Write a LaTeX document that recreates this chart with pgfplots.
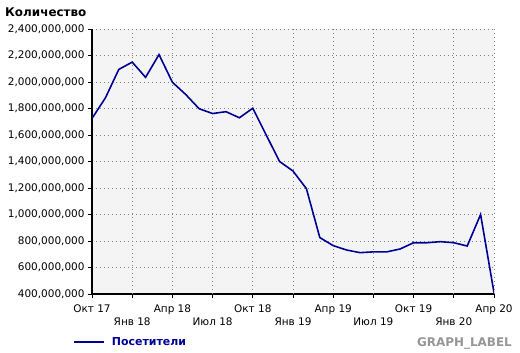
\documentclass[border=0pt]{standalone}
\usepackage{pgfplots}
\pgfplotsset{compat=1.18}
\usepackage{fontspec}
\setmainfont{DejaVu Sans}
\definecolor{bgc}{RGB}{244,244,244}
\definecolor{linec}{RGB}{0,0,150}
\definecolor{gridc}{RGB}{128,128,128}
\definecolor{lblc}{RGB}{150,150,150}
\begin{document}
\begin{tikzpicture}
\useasboundingbox (0,0) rectangle (520bp,353bp);
\begin{axis}[
  at={(92bp,59bp)}, anchor=south west,
  scale only axis, width=402bp, height=265bp,
  xmin=0, xmax=30, ymin=400000000, ymax=2400000000,
  axis x line*=bottom, axis y line*=left,
  axis line style={line width=1.8bp, black, -},
  axis background/.style={fill=bgc},
  xtick={0,6,12,18,24,30},
  xticklabels={Окт 17,Апр 18,Окт 18,Апр 19,Окт 19,Апр 20},
  extra x ticks={3,9,15,21,27},
  extra x tick labels={Янв 18,Июл 18,Янв 19,Июл 19,Янв 20},
  extra x tick style={grid=major, xticklabel style={yshift=-13bp}},
  ytick={400000000,600000000,800000000,1000000000,1200000000,1400000000,1600000000,1800000000,2000000000,2200000000,2400000000},
  scaled y ticks=false,
  yticklabel style={/pgf/number format/.cd, fixed, precision=0, 1000 sep={,}, assume math mode=true},
  xticklabel style={/pgf/number format/assume math mode=true, yshift=-3bp},
  tick label style={font=\fontsize{10.5}{12}\selectfont},
  tick align=outside, major tick length=4bp,
  tick style={black, line width=0.8bp},
  grid=major,
  major grid style={gridc, line width=0.8bp, dash pattern=on 1bp off 3bp},
  legend style={at={(-0.047,-0.181)}, anchor=west, draw=none, fill=none, inner sep=0pt,
    font=\fontsize{11}{13}\selectfont\bfseries\color{linec},
    /tikz/every odd column/.append style={column sep=5bp}},
  legend image code/.code={\draw[#1] (0bp,0bp) -- (30bp,0bp);},
]
\addplot[linec, line width=1.6bp, mark=none] table {
x y
0 1725000000
1 1880000000
2 2095000000
3 2150000000
4 2035000000
5 2207000000
6 1998000000
7 1905000000
8 1798000000
9 1762000000
10 1776000000
11 1730000000
12 1802000000
13 1600000000
14 1400000000
15 1328000000
16 1195000000
17 826000000
18 765000000
19 732000000
20 712000000
21 718000000
22 718000000
23 740000000
24 787000000
25 787000000
26 795000000
27 787000000
28 762000000
29 1000000000
30 410000000
};
\addlegendentry{Посетители}
\end{axis}
\node[anchor=west, font=\fontsize{12}{14}\selectfont\bfseries, inner sep=0pt] at (5bp,341bp) {Количество};
\node[anchor=east, font=\fontsize{12}{14}\selectfont\bfseries, text=lblc, inner sep=0pt] at (512bp,10bp) {GRAPH\_LABEL};
\end{tikzpicture}
\end{document}
